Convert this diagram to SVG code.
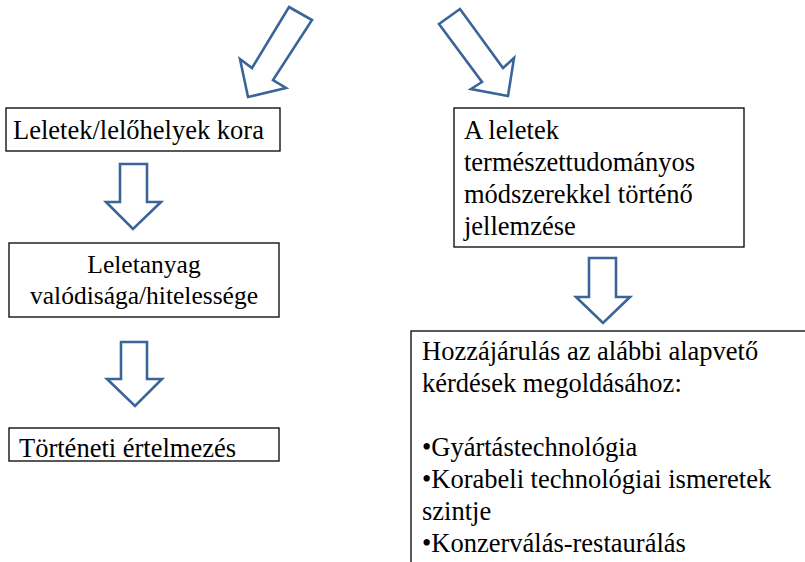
<svg xmlns="http://www.w3.org/2000/svg" width="805" height="562" viewBox="0 0 805 562">
<style>
.box{fill:#fff;stroke:#000;stroke-width:1.3}
.arr{fill:#fff;stroke:#3B6499;stroke-width:2.6;stroke-linejoin:miter}
.t{font-family:'Liberation Serif',serif;font-size:26.5px;fill:#000}
</style>
<rect width="805" height="562" fill="#fff"/>
<g id="connectors">
<polygon class="arr" points="289,7 312,20 273,80 286,88 248,97 240,59 252,68"/>
<polygon class="arr" points="439,24 460,9 503,68 514,58 508,96 471,89 482,82"/>
<polygon class="arr" points="120,164 147,164 147,202 161,202 133,229 106,202 120,202"/>
<polygon class="arr" points="121,342 147,342 147,379 162,379 135,406 107,379 121,379"/>
<polygon class="arr" points="589,258 616,258 616,297 630,297 603,323 576,297 589,297"/>
</g>
<g class="t" font-family="Liberation Serif, serif">
<g id="n1">
<rect class="box" x="6" y="108" width="274" height="43"/>
<text x="13" y="139">Leletek/lelőhelyek kora</text>
</g>
<g id="n2">
<rect class="box" x="9" y="243" width="270" height="74"/>
<text x="144" y="273" text-anchor="middle" font-size="25.5">Leletanyag</text>
<text x="144" y="304" text-anchor="middle" font-size="25.5">valódisága/hitelessége</text>
</g>
<g id="n3">
<rect class="box" x="9" y="428" width="270" height="33"/>
<text x="19" y="457">Történeti értelmezés</text>
</g>
<g id="n4">
<rect class="box" x="454" y="108" width="290" height="139"/>
<text x="464" y="139">A leletek</text>
<text x="464" y="171">természettudományos</text>
<text x="464" y="203">módszerekkel történő</text>
<text x="464" y="235">jellemzése</text>
</g>
<g id="n5">
<rect class="box" x="411" y="331" width="400" height="250"/>
<text x="422" y="360">Hozzájárulás az alábbi alapvető</text>
<text x="422" y="392">kérdések megoldásához:</text>
<text x="422" y="456">•Gyártástechnológia</text>
<text x="422" y="488">•Korabeli technológiai ismeretek</text>
<text x="422" y="520">szintje</text>
<text x="422" y="552">•Konzerválás-restaurálás</text>
</g>
</g>
</svg>
